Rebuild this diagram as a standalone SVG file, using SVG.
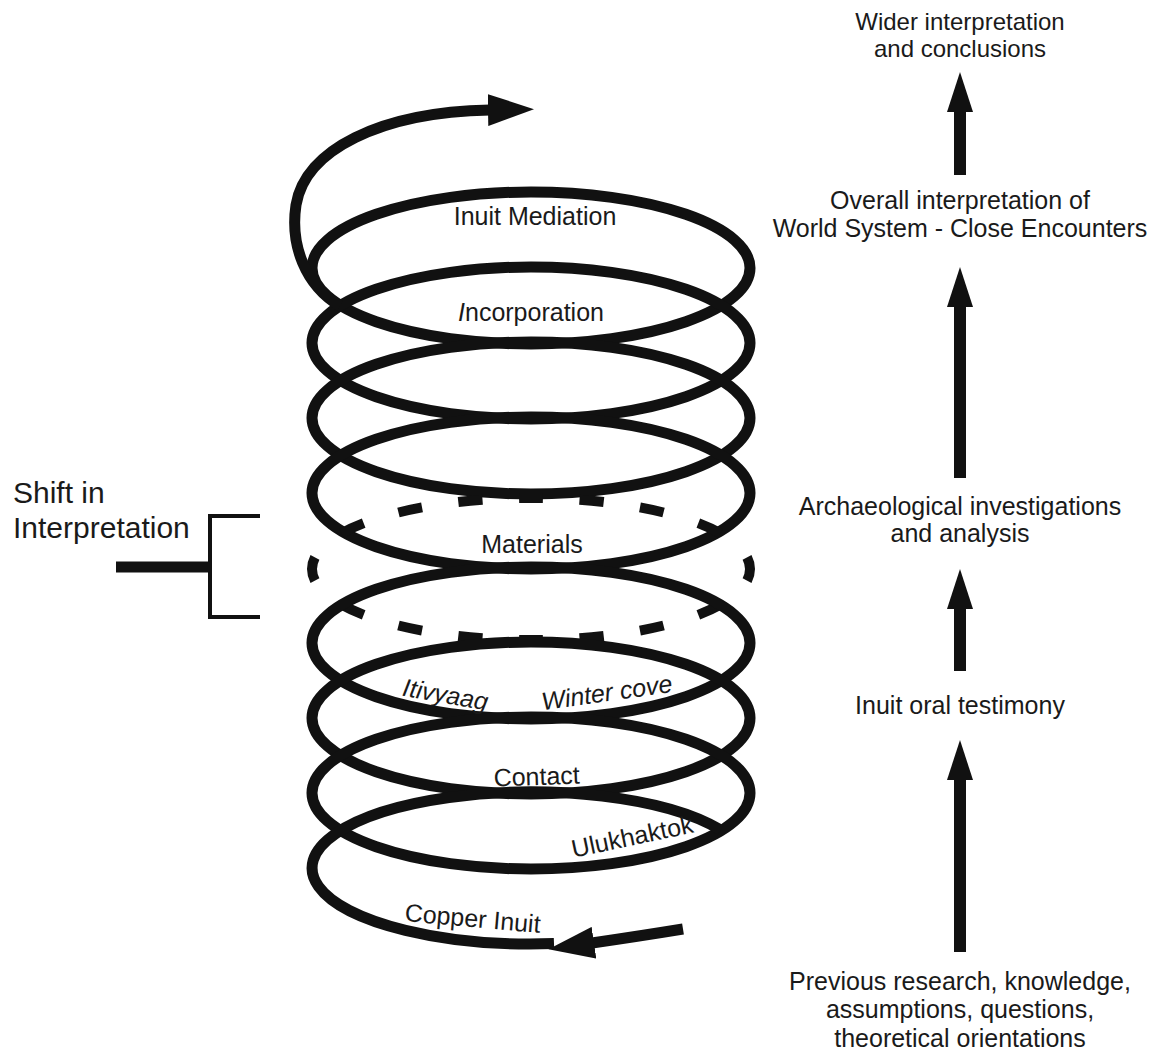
<svg xmlns="http://www.w3.org/2000/svg" width="1164" height="1055" viewBox="0 0 1164 1055">
  <style>
    .coil { fill: none; stroke: #111; stroke-width: 11; }
    .dash { fill: none; stroke: #111; stroke-width: 10; stroke-dasharray: 4 6; stroke-dashoffset: 2; }
    .lbl { font-family: "Liberation Sans", Arial, sans-serif; font-size: 25px; fill: #1a1a1a; text-anchor: middle; }
    .it { font-style: italic; }
    .side { font-family: "Liberation Sans", Arial, sans-serif; font-size: 30px; fill: #1a1a1a; }
    .shaft { fill: none; stroke: #111; stroke-width: 12; }
    .brk { fill: none; stroke: #111; stroke-width: 4; }
  </style>
  <defs>
    <marker id="headR" markerUnits="userSpaceOnUse" viewBox="0 0 40 26" markerWidth="40" markerHeight="26" refX="2" refY="13" orient="auto">
      <path d="M0,0 L40,13 L0,26 Z" fill="#111"/>
    </marker>
    <marker id="headS" markerUnits="userSpaceOnUse" viewBox="0 0 46 32" markerWidth="46" markerHeight="32" refX="2" refY="16" orient="auto">
      <path d="M0,0 L46,16 L0,32 Z" fill="#111"/>
    </marker>
  </defs>
  <rect width="1164" height="1055" fill="#fff"/>

  <g id="coil">
    <ellipse class="coil" cx="531" cy="268" rx="219" ry="76"/>
    <ellipse class="coil" cx="531" cy="343" rx="219" ry="76"/>
    <ellipse class="coil" cx="531" cy="418" rx="219" ry="76"/>
    <ellipse class="coil" cx="531" cy="493" rx="219" ry="76"/>
    <ellipse class="dash" cx="531" cy="569" rx="219" ry="71" pathLength="160"/>
    <ellipse class="coil" cx="531" cy="643" rx="219" ry="76"/>
    <ellipse class="coil" cx="531" cy="718" rx="219" ry="76"/>
    <ellipse class="coil" cx="531" cy="793" rx="219" ry="76"/>
    <path class="coil" d="M 554 943.6 A 219 76 0 1 1 720.7 830"/>
  </g>

  <g id="connectors">
    <path class="coil" d="M 340 306 C 305 285, 290 245, 296 205 C 305 150, 380 112, 490 110" marker-end="url(#headS)"/>
    <path class="coil" d="M 683 929 Q 640 936 592 943" marker-end="url(#headS)"/>
    <line class="shaft" x1="960" y1="175" x2="960" y2="110" marker-end="url(#headR)"/>
    <line class="shaft" x1="960" y1="478" x2="960" y2="305" marker-end="url(#headR)"/>
    <line class="shaft" x1="960" y1="671" x2="960" y2="607" marker-end="url(#headR)"/>
    <line class="shaft" x1="960" y1="952" x2="960" y2="778" marker-end="url(#headR)"/>
  </g>

  <g id="shift">
    <text class="side" x="13" y="503">Shift in</text>
    <text class="side" x="13" y="538">Interpretation</text>
    <path class="brk" d="M 260 516 H 210 V 617 H 260"/>
    <line x1="116" y1="567" x2="210" y2="567" stroke="#111" stroke-width="11"/>
  </g>

  <g id="label-inuit-mediation"><text class="lbl" x="535" y="225">Inuit Mediation</text></g>
  <g id="label-incorporation"><text class="lbl" x="531" y="321"><tspan class="it">I</tspan>ncorporation</text></g>
  <g id="label-materials"><text class="lbl" x="532" y="553">Materials</text></g>
  <g id="label-itivyaag"><text class="lbl it" x="444" y="703" transform="rotate(10 444 703)">Itivyaag</text></g>
  <g id="label-winter-cove"><text class="lbl it" x="608" y="701" transform="rotate(-8 608 701)">Winter cove</text></g>
  <g id="label-contact"><text class="lbl" x="537" y="785" transform="rotate(-2 537 785)">Contact</text></g>
  <g id="label-ulukhaktok"><text class="lbl" x="634" y="845" transform="rotate(-12 634 845)">Ulukhaktok</text></g>
  <g id="label-copper-inuit"><text class="lbl" x="472" y="927" transform="rotate(5 472 927)">Copper Inuit</text></g>

  <g id="node-wider">
    <text class="lbl" x="960" y="30" style="font-size:24px">Wider interpretation</text>
    <text class="lbl" x="960" y="57" style="font-size:24px">and conclusions</text>
  </g>
  <g id="node-overall">
    <text class="lbl" x="960" y="209">Overall interpretation of</text>
    <text class="lbl" x="960" y="237">World System - Close Encounters</text>
  </g>
  <g id="node-archaeological">
    <text class="lbl" x="960" y="515">Archaeological investigations</text>
    <text class="lbl" x="960" y="542">and analysis</text>
  </g>
  <g id="node-oral">
    <text class="lbl" x="960" y="714">Inuit oral testimony</text>
  </g>
  <g id="node-previous">
    <text class="lbl" x="960" y="990">Previous research, knowledge,</text>
    <text class="lbl" x="960" y="1018">assumptions, questions,</text>
    <text class="lbl" x="960" y="1047">theoretical orientations</text>
  </g>
</svg>
